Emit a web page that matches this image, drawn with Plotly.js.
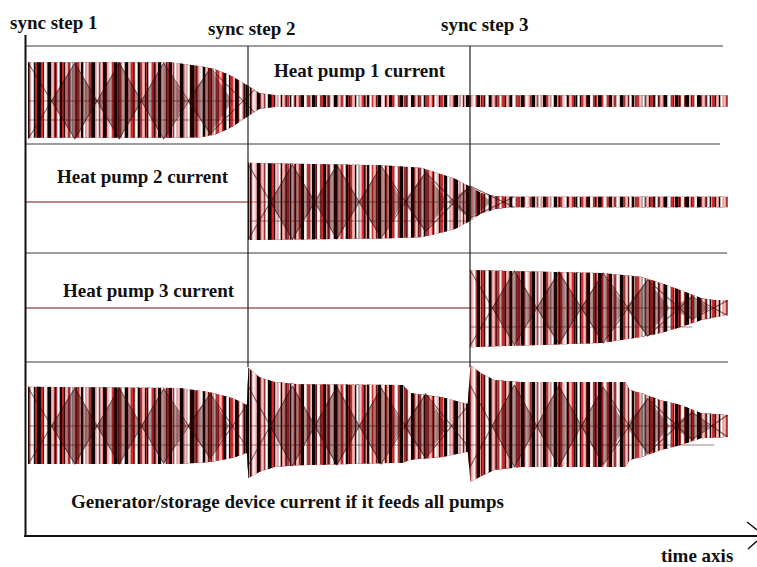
<!DOCTYPE html>
<html>
<head>
<meta charset="utf-8">
<script src="https://cdn.plot.ly/plotly-3.0.1.min.js"></script>
<style>
  html, body { margin: 0; padding: 0; background: #ffffff; }
  #chart { width: 757px; height: 567px; }
</style>
</head>
<body>
<div id="chart"></div>
<script>
// Time is measured in sync-step units: 0 = sync step 1, 1 = sync step 2, 2 = sync step 3.
const syncSteps = [0, 1, 2];
const syncLabels = ['sync step 1', 'sync step 2', 'sync step 3'];
const panelLabels = ['Heat pump 1 current', 'Heat pump 2 current', 'Heat pump 3 current',
                     'Generator/storage device current if it feeds all pumps'];
const axisLabel = 'time axis';

// Heat pump 1: envelope of the AC current (relative amplitude)
const hp1Time  = [0.01, 0.65, 0.78, 0.85, 0.92, 0.96, 1.01, 1.05, 1.12, 1.23, 1.70, 2.20, 2.70, 3.16];
const hp1Upper = [1.02, 1.02, 0.92, 0.84, 0.68, 0.55, 0.37, 0.21, 0.16, 0.15, 0.15, 0.15, 0.15, 0.15];
const hp1Lower = [-0.97, -0.97, -0.96, -0.89, -0.71, -0.55, -0.37, -0.21, -0.16, -0.15, -0.15, -0.15, -0.15, -0.15];
const hp1BeatTime = [0.01, 0.22, 0.42, 0.62, 0.83, 1.03];
const hp1BeatAmp  = [1.00, 1.00, 1.00, 1.00, 0.86, 0.30];

// Heat pump 2: idle until sync step 2
const hp2IdleTime = [0, 1];
const hp2Time  = [1.00, 1.60, 1.78, 1.86, 1.93, 2.00, 2.05, 2.11, 2.18, 2.70, 3.16];
const hp2Upper = [1.03, 0.97, 0.90, 0.75, 0.62, 0.40, 0.24, 0.16, 0.14, 0.14, 0.14];
const hp2Lower = [-1.00, -0.96, -0.93, -0.82, -0.72, -0.50, -0.30, -0.19, -0.14, -0.14, -0.14];
const hp2BeatTime = [1.00, 1.20, 1.40, 1.60, 1.80, 2.00, 2.20];
const hp2BeatAmp  = [1.00, 0.98, 0.97, 0.95, 0.78, 0.42, 0.14];

// Heat pump 3: idle until sync step 3
const hp3IdleTime = [0, 2];
const hp3Time  = [2.00, 2.59, 2.77, 2.86, 2.95, 3.04, 3.10, 3.16];
const hp3Upper = [1.00, 0.92, 0.82, 0.66, 0.47, 0.26, 0.21, 0.21];
const hp3Lower = [-1.03, -0.92, -0.76, -0.66, -0.50, -0.32, -0.24, -0.18];
const hp3BeatTime = [2.00, 2.20, 2.40, 2.60, 2.80, 3.00, 3.16];
const hp3BeatAmp  = [1.00, 0.98, 0.95, 0.92, 0.74, 0.30, 0.20];

// Generator / storage device: sum of all pumps, with inrush at each sync step
const genTime  = [0.01, 0.69, 0.83, 0.93, 0.995,
                  1.002, 1.05, 1.12, 1.23, 1.70, 1.73, 1.87, 1.99,
                  2.002, 2.05, 2.11, 2.23, 2.70, 2.72, 2.77, 2.86, 2.95, 3.04, 3.16];
const genUpper = [1.03, 1.00, 0.89, 0.74, 0.55,
                  1.53, 1.29, 1.16, 1.10, 1.08, 0.87, 0.76, 0.58,
                  1.60, 1.39, 1.21, 1.16, 1.16, 0.95, 0.87, 0.68, 0.55, 0.34, 0.29];
const genLower = [-1.00, -1.00, -0.95, -0.84, -0.71,
                  -1.37, -1.21, -1.08, -1.03, -0.97, -0.89, -0.82, -0.68,
                  -1.47, -1.32, -1.16, -1.08, -1.08, -0.89, -0.82, -0.63, -0.50, -0.32, -0.29];
const genBeatTime = [0.01, 0.22, 0.42, 0.62, 0.83, 1.00, null,
                     1.00, 1.20, 1.40, 1.60, 1.80, 2.00, null,
                     2.00, 2.20, 2.40, 2.60, 2.80, 3.00, 3.16];
const genBeatAmp  = [1.00, 1.00, 1.00, 0.98, 0.85, 0.60, null,
                     1.05, 1.05, 1.03, 1.00, 0.85, 0.60, null,
                     1.08, 1.08, 1.06, 1.02, 0.72, 0.36, 0.29];

// ---------------- page geometry (pixels) ----------------
const W = 757, H = 567;
const X0 = 26, STEP = 222;        // pixel of time 0 and pixels per sync step
const UNIT = 38;                  // pixels per unit of relative current
const panels = [                  // top, bottom, zero line
  { top: 46,  bottom: 144, zero: 101 },
  { top: 144, bottom: 253, zero: 202 },
  { top: 253, bottom: 362, zero: 308 },
  { top: 362, bottom: 536, zero: 426 }
];
const px = x => x / W;
const py = y => 1 - y / H;

const layout = {
  width: W, height: H,
  margin: { l: 0, r: 0, t: 0, b: 0 },
  paper_bgcolor: '#ffffff', plot_bgcolor: 'rgba(0,0,0,0)',
  showlegend: false,
  xaxis: { domain: [0, 1], range: [-X0 / STEP, (W - X0) / STEP], visible: false, fixedrange: true },
  shapes: [], annotations: []
};
panels.forEach((p, i) => {
  const key = i === 0 ? 'yaxis' : 'yaxis' + (i + 1);
  layout[key] = {
    domain: [py(p.bottom), py(p.top)],
    range: [-(p.bottom - p.zero) / UNIT, (p.zero - p.top) / UNIT],
    visible: false, fixedrange: true
  };
});

const traces = [];
const yref = i => (i === 0 ? 'y' : 'y' + (i + 1));

// Striped band: the dense oscillation drawn as layered vertical-stripe fills
const stripeLayers = [
  { fg: '#2a0707', bg: '#a03a3a', size: 3,  sol: 0.40 },
  { fg: '#e02a2a', bg: 'rgba(0,0,0,0)', size: 5,  sol: 0.34 },
  { fg: '#f4c2c2', bg: 'rgba(0,0,0,0)', size: 7,  sol: 0.36 },
  { fg: '#0e0202', bg: 'rgba(0,0,0,0)', size: 11, sol: 0.28 },
  { fg: '#ffffff', bg: 'rgba(0,0,0,0)', size: 13, sol: 0.18 }
];
function band(t, up, lo, i) {
  const x = t.concat(t.slice().reverse());
  const y = up.concat(lo.slice().reverse());
  stripeLayers.forEach((s, k) => {
    traces.push({
      type: 'scatter', mode: 'lines', x, y, yaxis: yref(i),
      line: { width: 0 }, fill: 'toself',
      fillcolor: k === 0 ? s.bg : 'rgba(0,0,0,0)',
      fillpattern: { shape: '|', fgcolor: s.fg, bgcolor: s.bg, size: s.size, solidity: s.sol },
      hoverinfo: 'skip'
    });
  });
}
// Beat pattern: two crossing zigzags, with the lozenges between them shaded darker
function beats(t, amp, i) {
  const runs = [];
  let cur = [];
  t.forEach((v, k) => {
    if (v === null) { if (cur.length) runs.push(cur); cur = []; }
    else cur.push([v, amp[k]]);
  });
  if (cur.length) runs.push(cur);

  runs.forEach(run => {
    for (let j = 1; j < run.length - 1; j++) {
      const left = (run[j - 1][0] + run[j][0]) / 2;
      const right = (run[j][0] + run[j + 1][0]) / 2;
      const mid = run[j][0], a = run[j][1];
      traces.push({
        type: 'scatter', mode: 'lines', yaxis: yref(i),
        x: [left, mid, right, mid, left], y: [0, a, 0, -a, 0],
        line: { width: 0 }, fill: 'toself', fillcolor: 'rgba(65,6,6,0.42)', hoverinfo: 'skip'
      });
    }
    [1, -1].forEach(sign => {
      traces.push({
        type: 'scatter', mode: 'lines', yaxis: yref(i),
        x: run.map(p => p[0]),
        y: run.map((p, n) => (n % 2 === 0 ? sign : -sign) * p[1]),
        line: { color: 'rgba(45,4,4,0.6)', width: 1.1 }, hoverinfo: 'skip'
      });
    });
  });
}
function idle(t, i) {
  traces.push({
    type: 'scatter', mode: 'lines', x: t, y: t.map(() => 0), yaxis: yref(i),
    line: { color: '#a06262', width: 1.3 }, hoverinfo: 'skip'
  });
}

band(hp1Time, hp1Upper, hp1Lower, 0);   beats(hp1BeatTime, hp1BeatAmp, 0);
idle(hp2IdleTime, 1);
band(hp2Time, hp2Upper, hp2Lower, 1);   beats(hp2BeatTime, hp2BeatAmp, 1);
idle(hp3IdleTime, 2);
band(hp3Time, hp3Upper, hp3Lower, 2);   beats(hp3BeatTime, hp3BeatAmp, 2);
band(genTime, genUpper, genLower, 3);   beats(genBeatTime, genBeatAmp, 3);

// faint reference lines of the scope traces (zero and half-amplitude)
const refSpans = [[hp1Time[0], 0.97], [1.0, 2.0], [2.0, 3.0], [genTime[0], 3.1]];
refSpans.forEach((s, i) => {
  [0, -0.5].forEach(v => layout.shapes.push({
    type: 'line', xref: 'x', yref: yref(i), x0: s[0], x1: s[1], y0: v, y1: v,
    line: { color: 'rgba(60,10,10,0.5)', width: 1 }
  }));
});

// panel frame lines
const lineCol = '#3a3a3a';
[[46, 723], [144, 720], [253, 727], [362, 728]].forEach(([y, xe]) => layout.shapes.push({
  type: 'line', xref: 'paper', yref: 'paper', x0: px(26), x1: px(xe), y0: py(y), y1: py(y),
  line: { color: lineCol, width: 1.2 }
}));
syncSteps.slice(1).forEach(s => layout.shapes.push({
  type: 'line', xref: 'x', yref: 'paper', x0: s, x1: s, y0: py(46), y1: py(367),
  line: { color: '#222222', width: 1.2 }
}));
// axes with arrow
layout.shapes.push(
  { type: 'line', xref: 'paper', yref: 'paper', x0: px(25.5), x1: px(25.5), y0: py(35), y1: py(537),
    line: { color: '#111', width: 2 } },
  { type: 'line', xref: 'paper', yref: 'paper', x0: px(24), x1: px(757), y0: py(536), y1: py(536),
    line: { color: '#111', width: 2 } },
  { type: 'line', xref: 'paper', yref: 'paper', x0: px(747), x1: px(757), y0: py(522), y1: py(530),
    line: { color: '#111', width: 1.5 } },
  { type: 'line', xref: 'paper', yref: 'paper', x0: px(748), x1: px(757), y0: py(549), y1: py(541),
    line: { color: '#111', width: 1.5 } }
);

// labels
const labelFont = { family: 'Liberation Serif, Times New Roman, serif', size: 19, color: '#111', weight: 'bold' };
const label = (text, x, y) => layout.annotations.push({
  text, xref: 'paper', yref: 'paper', x: px(x), y: py(y), xanchor: 'center', yanchor: 'middle',
  showarrow: false, font: labelFont
});
label(syncLabels[0], 54, 22);
label(syncLabels[1], 252, 28);
label(syncLabels[2], 485, 24);
label(panelLabels[0], 360, 70);
label(panelLabels[1], 143, 177);
label(panelLabels[2], 149, 290);
label(panelLabels[3], 287, 501);
label(axisLabel, 697, 555);

Plotly.newPlot('chart', traces, layout, { staticPlot: true, displayModeBar: false });
</script>
</body>
</html>
